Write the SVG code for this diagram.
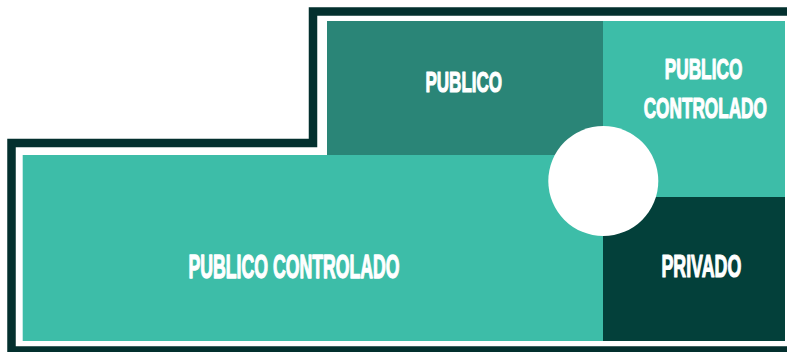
<svg xmlns="http://www.w3.org/2000/svg" width="787" height="352" viewBox="0 0 787 352">
  <style>
    .lbl { font-family: "Liberation Sans", Arial, sans-serif; font-weight: bold; fill: #ffffff; stroke: #ffffff; stroke-width: 0.7; stroke-linejoin: round; }
    .teal { fill: #3dbda8; }
    .mid { fill: #2a8577; }
    .dark { fill: #03403a; }
  </style>
  <rect width="787" height="352" fill="#ffffff"/>
  <g id="border">
    <path d="M 800 11.5 H 313 V 143 H 11.5 V 350.5 H 800" fill="none" stroke="#03302e" stroke-width="8.5" stroke-linejoin="miter"/>
  </g>
  <g id="publico-controlado-main">
    <rect class="teal" x="22.7" y="155" width="581" height="186"/>
    <text class="lbl" transform="scale(1,1.859)" x="188.4" y="149.54" font-size="17.75" textLength="211.2" lengthAdjust="spacingAndGlyphs">PUBLICO CONTROLADO</text>
  </g>
  <g id="publico">
    <rect class="mid" x="327" y="21" width="276.3" height="134"/>
    <text class="lbl" transform="scale(1,1.742)" x="425.4" y="52.64" font-size="17.22" textLength="76.7" lengthAdjust="spacingAndGlyphs">PUBLICO</text>
  </g>
  <g id="publico-controlado-right">
    <rect class="teal" x="603" y="21" width="182" height="176"/>
    <text class="lbl" transform="scale(1,1.693)" x="664.7" y="46.84" font-size="17.42" textLength="77.6" lengthAdjust="spacingAndGlyphs">PUBLICO</text>
    <text class="lbl" transform="scale(1,1.734)" x="643.7" y="68.22" font-size="17.3" textLength="123.2" lengthAdjust="spacingAndGlyphs">CONTROLADO</text>
  </g>
  <g id="privado">
    <rect class="dark" x="603" y="197" width="182" height="144"/>
    <text class="lbl" transform="scale(1,1.779)" x="661.4" y="155.54" font-size="17.71" textLength="79.9" lengthAdjust="spacingAndGlyphs">PRIVADO</text>
  </g>
  <g id="center-circle">
    <circle cx="603.3" cy="181" r="55" fill="#ffffff"/>
  </g>
  <g id="connectors"></g>
</svg>
